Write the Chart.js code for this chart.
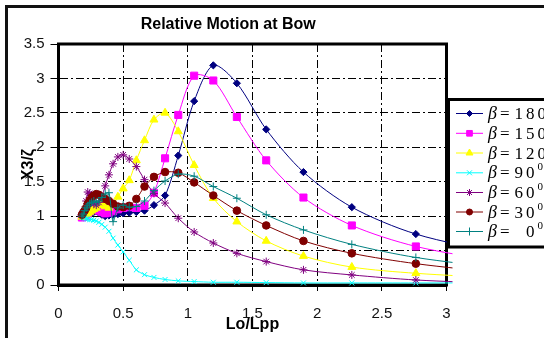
<!DOCTYPE html>
<html><head><meta charset="utf-8">
<script src="https://cdn.jsdelivr.net/npm/chart.js@4/dist/chart.umd.min.js"></script>
<style>html,body{margin:0;padding:0;background:#fff;}canvas{display:block;}</style>
</head><body>
<canvas id="c" width="544" height="338"></canvas>
<script>
// Lo/Lpp values (shared by all series)
const lopp = [3.441, 2.763, 2.268, 1.894, 1.606, 1.379, 1.197, 1.049, 0.926, 0.824, 0.738, 0.665, 0.602, 0.547, 0.500, 0.459, 0.422, 0.390, 0.361, 0.335, 0.312, 0.292, 0.273, 0.256, 0.241, 0.226, 0.214, 0.202, 0.191, 0.181];
const beta180 = [0.45, 0.74, 1.13, 1.64, 2.26, 2.93, 3.19, 2.67, 1.88, 1.30, 1.16, 1.08, 1.06, 1.05, 1.04, 1.03, 1.02, 1.01, 1.00, 1.02, 1.05, 1.07, 1.06, 1.05, 1.04, 1.03, 1.03, 1.02, 1.01, 1.00];
const beta150 = [0.33, 0.56, 0.865, 1.27, 1.81, 2.44, 2.97, 3.04, 2.47, 1.84, 1.34, 1.15, 1.12, 1.13, 1.12, 1.10, 1.07, 1.05, 1.04, 1.06, 1.08, 1.10, 1.12, 1.10, 1.07, 1.04, 1.02, 1.00, 0.99, 0.98];
const beta120 = [0.10, 0.17, 0.26, 0.42, 0.64, 0.92, 1.26, 1.74, 2.23, 2.50, 2.40, 2.10, 1.81, 1.52, 1.40, 1.28, 1.16, 1.12, 1.14, 1.18, 1.16, 1.12, 1.10, 1.08, 1.06, 1.04, 1.03, 1.02, 1.00, 0.99];
const beta90  = [0.03, 0.03, 0.03, 0.03, 0.035, 0.04, 0.04, 0.05, 0.06, 0.08, 0.11, 0.15, 0.22, 0.36, 0.48, 0.58, 0.68, 0.78, 0.84, 0.88, 0.91, 0.93, 0.94, 0.95, 0.95, 0.96, 0.96, 0.97, 0.98, 1.00];
const beta60  = [0.02, 0.073, 0.146, 0.22, 0.34, 0.46, 0.61, 0.77, 0.97, 1.19, 1.33, 1.53, 1.72, 1.83, 1.89, 1.86, 1.76, 1.60, 1.44, 1.28, 1.20, 1.16, 1.18, 1.24, 1.33, 1.35, 1.22, 1.10, 1.05, 1.02];
const beta30  = [0.17, 0.31, 0.46, 0.64, 0.865, 1.08, 1.30, 1.49, 1.63, 1.64, 1.57, 1.43, 1.25, 1.15, 1.13, 1.14, 1.18, 1.22, 1.25, 1.28, 1.31, 1.32, 1.30, 1.27, 1.23, 1.18, 1.12, 1.08, 1.05, 1.02];
const beta0   = [0.24, 0.40, 0.59, 0.80, 1.02, 1.26, 1.43, 1.58, 1.61, 1.51, 1.37, 1.22, 1.14, 1.13, 1.16, 1.12, 0.92, 1.34, 1.32, 1.27, 1.22, 1.20, 1.22, 1.20, 1.18, 1.15, 1.12, 1.08, 1.03, 1.00];

const headings = ['180', '150', '120', '90', '60', '30', '0'];
const xTickLabels = ['0', '0.5', '1', '1.5', '2', '2.5', '3'];
const yTickLabels = ['0', '0.5', '1', '1.5', '2', '2.5', '3', '3.5'];

const seriesValues = [beta180, beta150, beta120, beta90, beta60, beta30, beta0];
const colors = ['#000080', '#FF00FF', '#FFFF00', '#00FFFF', '#800080', '#800000', '#008080'];
const styles = ['rectRot', 'rect', 'triangle', 'crossRot', 'star', 'circle', 'cross'];
const radii = [3.6, 5, 4.6, 3.5, 4, 3.8, 4];
const legendRadii = [3, 4, 4, 3.5, 3.5, 3, 4];

const datasets = seriesValues.map((vals, i) => ({
  label: 'β=' + headings[i] + '°',
  data: lopp.map((x, j) => ({x: x, y: vals[j]})),
  borderColor: colors[i],
  backgroundColor: colors[i],
  pointBackgroundColor: colors[i],
  pointBorderColor: colors[i],
  pointStyle: styles[i],
  pointRadius: radii[i],
  pointBorderWidth: 1,
  borderWidth: 1,
  tension: 0.3,
  order: 6 - i,
  clip: {left: 0, top: 0, right: 6, bottom: 2}
}));

const deco = {
  id: 'deco',
  beforeDraw(chart) {
    const ctx = chart.ctx;
    ctx.save();
    ctx.fillStyle = '#fff';
    ctx.fillRect(0, 0, chart.width, chart.height);
    ctx.strokeStyle = '#111';
    ctx.lineWidth = 3;
    ctx.beginPath();
    ctx.moveTo(6.5, 345);
    ctx.lineTo(6.5, 6.5);
    ctx.lineTo(550, 6.5);
    ctx.stroke();
    ctx.restore();
  },
  beforeDatasetsDraw(chart) {
    const ctx = chart.ctx, a = chart.chartArea;
    ctx.save();
    ctx.strokeStyle = '#000';
    ctx.lineWidth = 3;
    ctx.strokeRect(a.left, a.top, a.right - a.left, a.bottom - a.top);
    ctx.restore();
  },
  afterDraw(chart) {
    const ctx = chart.ctx;
    ctx.save();
    ctx.fillStyle = '#fff';
    ctx.fillRect(448, 99, 110, 148);
    ctx.strokeStyle = '#000';
    ctx.lineWidth = 3;
    ctx.strokeRect(448.5, 99.5, 110, 147.5);
    const rows = [113, 132.8, 152.5, 172.3, 192, 211.5, 231];
    rows.forEach((y, i) => {
      ctx.strokeStyle = colors[i];
      ctx.fillStyle = colors[i];
      ctx.lineWidth = 1;
      ctx.beginPath();
      ctx.moveTo(456, y + 0.5);
      ctx.lineTo(483, y + 0.5);
      ctx.stroke();
      if (Chart.helpers && Chart.helpers.drawPoint) {
        Chart.helpers.drawPoint(ctx, {pointStyle: styles[i], radius: legendRadii[i], borderWidth: 1, rotation: 0}, 469.5, y + 0.5);
      }
      ctx.fillStyle = '#000';
      ctx.textBaseline = 'alphabetic';
      ctx.textAlign = 'left';
      ctx.font = 'italic 18px "Liberation Serif"';
      ctx.fillText('β', 488, y + 6);
      ctx.font = '17px "Liberation Serif"';
      ctx.fillText('=', 500, y + 6);
      const d = headings[i];
      const start = d.length === 1 ? 526 : 514.5;
      for (let k = 0; k < d.length; k++) {
        ctx.fillText(d[k], start + k * 11.5, y + 6);
      }
      ctx.font = '11px "Liberation Serif"';
      ctx.fillText('0', start + d.length * 11.5, y - 2);
    });
    ctx.restore();
  }
};

new Chart(document.getElementById('c'), {
  type: 'line',
  data: {datasets: datasets},
  plugins: [deco],
  options: {
    responsive: false,
    animation: false,
    devicePixelRatio: 1,
    layout: {padding: {left: 10, right: 97.5, top: 0, bottom: 0}},
    plugins: {
      legend: {display: false},
      tooltip: {enabled: false},
      title: {
        display: true, text: 'Relative Motion at Bow', color: '#000',
        font: {family: 'Liberation Sans', size: 16, weight: 'bold', lineHeight: 1.2},
        padding: {top: 15.4, bottom: 9.4}
      }
    },
    scales: {
      x: {
        type: 'linear', min: 0, max: 3,
        ticks: {stepSize: 0.5, padding: 14, color: '#111', maxRotation: 0, autoSkip: false,
          font: {family: 'Liberation Sans', size: 15},
          callback: (v) => xTickLabels[Math.round(v * 2)]},
        grid: {color: '#000', lineWidth: 1, tickLength: 6, tickColor: '#000', tickWidth: 1},
        border: {display: true, color: '#000', width: 3, dash: [8, 3, 2, 3]},
        title: {display: true, text: 'Lo/Lpp', color: '#000',
          font: {family: 'Liberation Sans', size: 16, weight: 'bold', lineHeight: 1.2},
          padding: {top: 0, bottom: 3.4}},
        afterFit(s) { s.height = 53; }
      },
      y: {
        type: 'linear', min: 0, max: 3.5,
        ticks: {stepSize: 0.5, padding: 6, color: '#111',
          font: {family: 'Liberation Sans', size: 15},
          callback: (v) => yTickLabels[Math.round(v * 2)]},
        grid: {color: '#000', lineWidth: 1, tickLength: 8, tickColor: '#000', tickWidth: 1},
        border: {display: true, color: '#000', width: 3, dash: [8, 3, 2, 3]},
        title: {display: true, text: 'X3/ζ', color: '#000',
          font: {family: 'Liberation Sans', size: 16, weight: 'bold', lineHeight: 1.2},
          padding: {top: 9, bottom: 0}},
        afterFit(s) { s.width = 48.5; }
      }
    }
  }
});
</script>
</body></html>
